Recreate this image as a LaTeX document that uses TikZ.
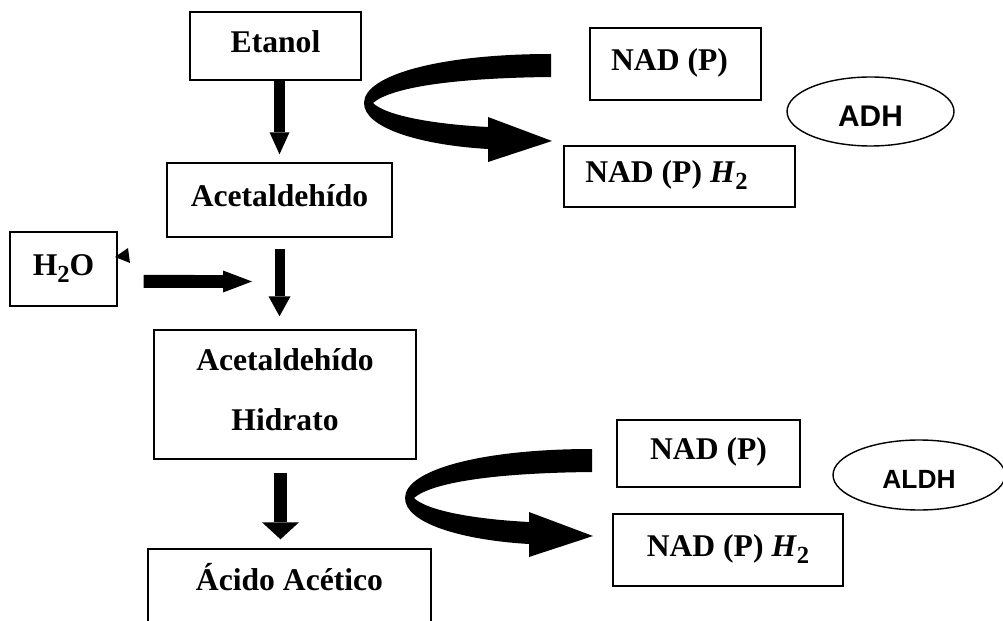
\documentclass[tikz,border=0pt]{standalone}
\usepackage{fontspec}
\setmainfont{Liberation Serif}
\newfontfamily\enzfont{Liberation Sans}
\usepackage{tikz}
\usetikzlibrary{shapes,arrows.meta}

\newcommand{\sbs}[1]{\raisebox{-4pt}{\fontsize{14}{16}\selectfont #1}}

\tikzset{
  stage/.style={shape=rectangle,draw=black,line width=0.8pt,inner sep=0pt,align=center,font=\fontsize{18}{22}\selectfont\bfseries},
  one/.style={stage,text height=12.6pt,text depth=5.4pt},
  enzyme/.style={shape=ellipse,draw=black,line width=0.8pt,inner sep=0pt,text depth=0pt}
}

\begin{document}
\begin{tikzpicture}[x=0.02cm,y=-0.02cm]
\useasboundingbox (0,0) rectangle (1003,621);
\clip (0,0) rectangle (1003,621);

\node[one,minimum width=3.42cm,minimum height=1.36cm] (etanol) at (275.5,46) {Etanol};
\node[one,minimum width=4.5cm,minimum height=1.48cm] (acet) at (279.5,200) {Acetaldehído};
\node[one,minimum width=2.14cm,minimum height=1.48cm] (h2o) at (63.5,269) {H\sbs{2}O};
\node[stage,minimum width=5.24cm,minimum height=2.58cm] (hid) at (285,394.5) {Acetaldehído\\[12pt]Hidrato\rule[-5.7pt]{0pt}{5.7pt}};
\node[stage,text height=12.6pt,text depth=17pt,minimum width=5.66cm,minimum height=1.8cm] (acido) at (289.5,594) {Ácido Acético};

\node[one,minimum width=3.42cm,minimum height=1.44cm] (nadA) at (675.5,64) {NAD (P)\hspace*{0.24cm}};
\node[one,minimum width=4.62cm,minimum height=1.22cm] (nadhA) at (679.5,176.5) {NAD (P) \textit{H}\sbs{2}\hspace*{0.52cm}};
\node[enzyme,font=\enzfont\bfseries\fontsize{17}{20}\selectfont,text height=17pt,minimum width=3.34cm,minimum height=1.38cm] (adh) at (870.5,111.5) {ADH};

\node[one,minimum width=3.66cm,minimum height=1.34cm] (nadB) at (708.5,453.5) {NAD (P)};
\node[one,minimum width=4.6cm,minimum height=1.44cm] (nadhB) at (728,550) {NAD (P) \textit{H}\sbs{2}};
\node[enzyme,font=\enzfont\bfseries\fontsize{15}{18}\selectfont,text height=15pt,minimum width=3.44cm,minimum height=1.4cm] (aldh) at (919,475) {ALDH};

% straight arrows
\draw[line width=0.22cm,-{Triangle[length=0.44cm,width=0.4cm,line width=0pt]},shorten >=0.16cm] (etanol.south -| acet.north) -- (acet.north);
\draw[line width=0.2cm,-{Triangle[length=0.4cm,width=0.44cm,line width=0pt]},shorten <=0.22cm,shorten >=0.26cm] (acet.south) -- (acet.south |- hid.north);
\draw[line width=0.26cm,-{Triangle[length=0.34cm,width=0.74cm,line width=0pt]},shorten <=0.26cm,shorten >=0.18cm] ([xshift=-0.09cm]hid.south) -- ([xshift=-0.09cm]hid.south |- acido.north);

\coordinate (w) at (252,281.5);
\draw[line width=0.26cm,-{Triangle[length=0.58cm,width=0.44cm,line width=0pt]},shorten <=0.52cm] ([yshift=-0.25cm]h2o.east) -- (w);
\fill (115,257) -- (128,248) -- (130,263) -- cycle;

% curved arrows
\fill (551,54) .. controls (440,54) and (364,75) .. (364,103) .. controls (364,128) and (420,145) .. (488,149) -- (488,162) -- (552,141) -- (488,117) -- (488,127) .. controls (430,124) and (385,115) .. (373,103) .. controls (390,88) and (450,78) .. (551,77) -- cycle;
\fill[shift={(41,395)}] (551,54) .. controls (440,54) and (364,75) .. (364,103) .. controls (364,128) and (420,145) .. (488,149) -- (488,162) -- (552,141) -- (488,117) -- (488,127) .. controls (430,124) and (385,115) .. (373,103) .. controls (390,88) and (450,78) .. (551,77) -- cycle;
\end{tikzpicture}
\end{document}
